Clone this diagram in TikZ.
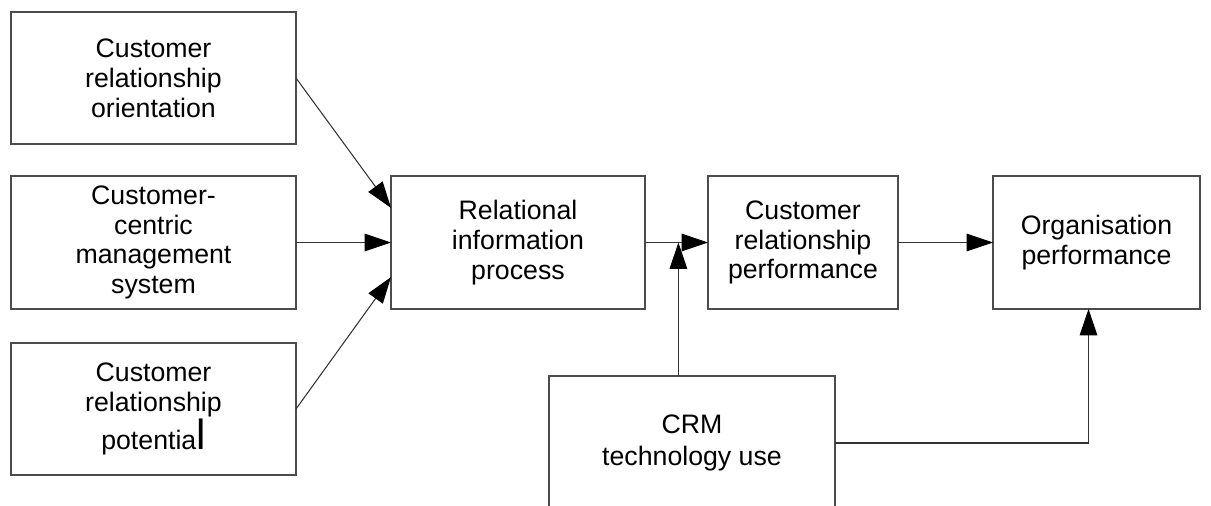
\documentclass[tikz,border=0pt]{standalone}
\usepackage{fontspec}
\setmainfont{Liberation Sans}
\usetikzlibrary{
    arrows.meta,
    calc,
    positioning
}
\tikzset{
    every picture/.style = {
        > = {Triangle[length = 15pt, width = 10pt, color = black]},
        line width = 0.6pt
    },
    box/.style = {
        draw = black!70,
        fill = white,
        inner sep = 0pt,
        outer sep = 0pt,
        align = center,
        font = \fontsize{15.2}{17}\selectfont
    },
    boxsize/.style 2 args = {
        minimum width = #1*0.02cm,
        minimum height = #2*0.02cm
    },
    link/.style = {
        draw = black!80,
        ->
    }
}

\begin{document}
\begin{tikzpicture}[x = 0.02cm, y = -0.02cm]

    \useasboundingbox (0, 0) rectangle (1211, 505);
    \clip (0, 0) rectangle (1211, 505);

    \node[box, boxsize = {285}{132}] (cro)  at (153.5, 78)    {Customer\\relationship\\orientation};
    \node[box, boxsize = {285}{133}] (ccms) at (153.5, 242.5) {Customer-\\centric\\management\\system};
    \node[box, boxsize = {285}{132}] (crp)  at (153.5, 409)   {Customer\\relationship\\potentia{\fontsize{24}{17}\selectfont l}};

    \node[box, boxsize = {254}{133}] (rip)    at (518, 242.5)    {Relational\\information\\process};
    \node[box, boxsize = {190}{133}] (crperf) at (803, 242.5)    {Customer\\relationship\\performance};
    \node[box, boxsize = {207}{133}] (orgp)   at (1096.5, 242.5) {Organisation\\performance};

    % bottom edge runs off the page
    \node[box, boxsize = {286}{134}, font = \fontsize{15.2}{18.7}\selectfont] (crmuse) at (692, 443) {CRM\\technology use};

    \coordinate (join) at ($(rip.east)!0.53!(crperf.west)$);

    \path[link] (cro.east) -- ($(rip.west)!0.52!(rip.north west)$);
    \path[link] (ccms.east) -- (rip.west);
    \path[link] (crp.east) -- ($(rip.west)!0.52!(rip.south west)$);

    \path[link] (rip.east) -- (crperf.west);
    \path[link] (crmuse.north -| join) -- (join);
    \path[link] (crperf.east) -- (orgp.west);
    \path[link] (crmuse.east) -| ($(orgp.south) + (-8, 0)$);

\end{tikzpicture}
\end{document}
